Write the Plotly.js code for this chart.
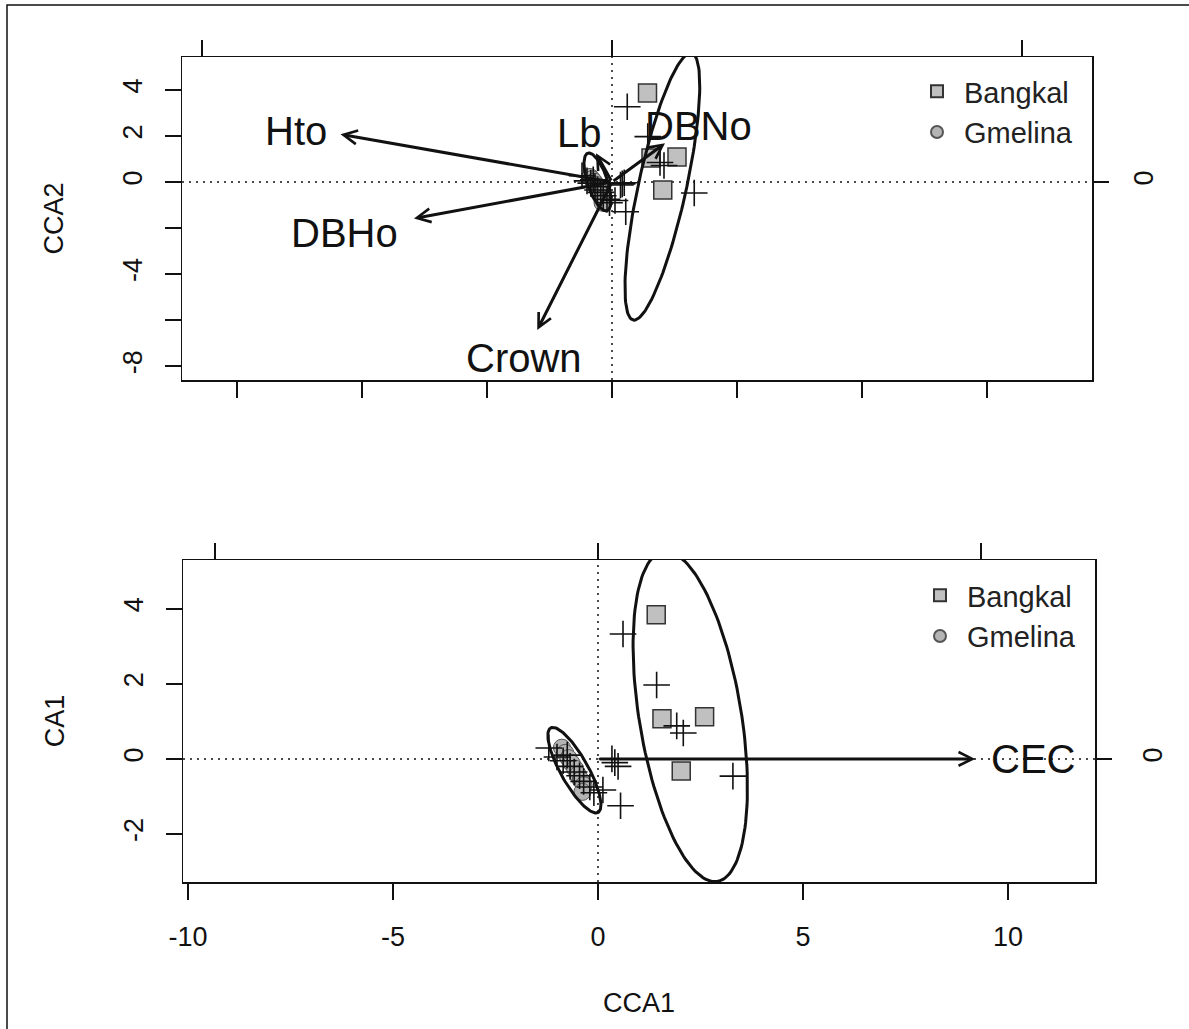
<!DOCTYPE html>
<html>
<head>
<meta charset="utf-8">
<script src="https://cdn.plot.ly/plotly-3.0.1.min.js"></script>
<style>html,body{margin:0;padding:0;background:#fff;}#chart{width:1189px;height:1029px;}</style>
</head>
<body>
<div id="chart"></div>
<script>
// ---------------- data ----------------
const groups = ['Bangkal', 'Gmelina'];

// site scores
const bangkalCCA1 = [1.42, 1.56, 2.60, 2.03];
const bangkalCCA2 = [3.87, 1.04, 1.09, -0.35];
const bangkalCA1  = [3.84, 1.07, 1.12, -0.32];

const gmelinaCCA1 = [-0.88, -0.80, -0.72, -0.64, -0.56, -0.49, -0.42, -0.35, -0.38];
const gmelinaCCA2 = [0.22, 0.12, 0.02, -0.12, -0.25, -0.40, -0.55, -0.70, -0.90];
const gmelinaCA1  = [0.30, 0.16, 0.02, -0.12, -0.26, -0.42, -0.56, -0.70, -0.88];

// species scores (crosses)
const speciesCCA1 = [0.61, 1.43, 1.92, 2.08, 3.29, 0.55, 0.34, 0.41, 0.49, -1.20, -1.00, -0.85, -0.75, -0.68, -0.58, -0.45, -0.35, -0.20, 0.12, -0.10];
const speciesCCA2 = [3.27, 1.97, 0.85, 0.72, -0.48, -1.29, -0.13, -0.08, -0.03, 0.27, 0.05, -0.05, 0.10, -0.20, -0.35, -0.45, -0.60, -0.75, -0.80, -0.90];
const speciesCA1  = [3.33, 1.97, 0.88, 0.69, -0.46, -1.25, 0.00, -0.10, -0.20, 0.29, 0.05, -0.05, 0.10, -0.20, -0.35, -0.45, -0.60, -0.75, -0.83, -0.90];

// biplot arrows, top panel (CCA1 vs CCA2)
const envNames   = ['Hto', 'DBHo', 'Crown', 'Lb', 'DBNo'];
const envCCA1    = [-10.86, -7.92, -2.99, -0.64, 2.12];
const envCCA2    = [2.07, -1.58, -6.43, 1.25, 1.68];
const envLabelX  = [-12.64, -10.72, -3.52, -1.32, 3.44];
const envLabelY  = [2.20, -2.20, -7.65, 2.15, 2.45];

// biplot arrow, bottom panel (CCA1 vs CA1)
const env2Names  = ['CEC'];
const env2CCA1   = [9.2];
const env2CA1    = [0];
const env2LabelX = [10.6];
const env2LabelY = [0];

// ellipses: [centre x, centre y, shear, half width, half height]
const ellipseTopBangkal    = [2.015, -0.20, 0.195, 0.98, 5.80];
const ellipseTopGmelina    = [-0.58, 0.00, -0.27, 0.42, 1.26];
const ellipseBottomBangkal = [2.25, 1.13, -0.136, 1.26, 4.40];
const ellipseBottomGmelina = [-0.575, -0.30, -0.46, 0.38, 1.14];

// tick labels
const topYTicks   = [-8, -6, -4, -2, 0, 2, 4];
const topYText    = ['-8', '', '-4', '', '0', '2', '4'];
const topXTicks   = [-15, -10, -5, 0, 5, 10, 15];
const botXTicks   = [-10, -5, 0, 5, 10];
const botXText    = ['-10', '-5', '0', '5', '10'];
const botYTicks   = [-2, 0, 2, 4];
const botYText    = ['-2', '0', '2', '4'];
const sideTicks   = [-1, 0, 1];
const rightTicks  = [0];
const rightText   = ['0'];

// ---------------- helpers ----------------
const FONT = 'Liberation Sans, Arial, Helvetica, sans-serif';
const INK = '#111';

function ellipse(p) {
  const [xc, yc, k, hw, h] = p;
  const xs = [], ys = [];
  for (let i = 0; i <= 144; i++) {
    const t = 2 * Math.PI * i / 144;
    ys.push(yc + h * Math.sin(t));
    xs.push(xc + k * h * Math.sin(t) + hw * Math.cos(t));
  }
  return { xs, ys };
}

const bangkalMarker = { symbol: 'square', size: 18, color: '#c0c0c0', line: { color: '#333', width: 1.5 } };
const gmelinaMarker = { symbol: 'circle', size: 17, color: '#b4b4b4', line: { color: '#555', width: 1 } };
const crossMarker = { symbol: 'cross-thin', size: 19, color: INK, line: { color: INK, width: 1.6 } };

function panelTraces(xa, ya, legendId, bY, gY, sY, eB, eG) {
  const eb = ellipse(eB), eg = ellipse(eG);
  return [
    { type: 'scatter', mode: 'markers', name: groups[0], x: bangkalCCA1, y: bY, xaxis: xa, yaxis: ya,
      marker: bangkalMarker, legend: legendId, hoverinfo: 'skip' },
    { type: 'scatter', mode: 'markers', name: groups[1], x: gmelinaCCA1, y: gY, xaxis: xa, yaxis: ya,
      marker: gmelinaMarker, legend: legendId, hoverinfo: 'skip' },
    { type: 'scatter', mode: 'markers', name: 'species', x: speciesCCA1, y: sY, xaxis: xa, yaxis: ya,
      marker: crossMarker, showlegend: false, hoverinfo: 'skip' },
    { type: 'scatter', mode: 'lines', x: eb.xs, y: eb.ys, xaxis: xa, yaxis: ya,
      line: { color: INK, width: 3 }, showlegend: false, hoverinfo: 'skip' },
    { type: 'scatter', mode: 'lines', x: eg.xs, y: eg.ys, xaxis: xa, yaxis: ya,
      line: { color: INK, width: 3 }, showlegend: false, hoverinfo: 'skip' }
  ];
}

const data = [].concat(
  panelTraces('x', 'y', 'legend', bangkalCCA2, gmelinaCCA2, speciesCCA2, ellipseTopBangkal, ellipseTopGmelina),
  panelTraces('x2', 'y2', 'legend2', bangkalCA1, gmelinaCA1, speciesCA1, ellipseBottomBangkal, ellipseBottomGmelina),
  // empty traces to register the extra (top / right) axes
  [
    { type: 'scatter', x: [], y: [], xaxis: 'x3', yaxis: 'y', showlegend: false, hoverinfo: 'skip' },
    { type: 'scatter', x: [], y: [], xaxis: 'x', yaxis: 'y3', showlegend: false, hoverinfo: 'skip' },
    { type: 'scatter', x: [], y: [], xaxis: 'x4', yaxis: 'y2', showlegend: false, hoverinfo: 'skip' },
    { type: 'scatter', x: [], y: [], xaxis: 'x2', yaxis: 'y4', showlegend: false, hoverinfo: 'skip' }
  ]
);

// ---------------- layout ----------------
const W = 1189, H = 1029;
const px = v => v / W;
const py = v => 1 - v / H;

const topXRange = [-17.2, 19.2];
const topYRange = [-8.6, 5.43];
const botXRange = [-10.12, 12.12];
const botYRange = [-3.28, 5.3];

const tickFont = { family: FONT, size: 27, color: INK };
const titleFont = { family: FONT, size: 27, color: INK };

const baseAxis = {
  showgrid: false, zeroline: false, showline: true, mirror: true,
  linecolor: INK, linewidth: 1.5, ticks: 'outside', ticklen: 16,
  tickcolor: INK, tickwidth: 1.5, tickfont: tickFont, fixedrange: true
};

const layout = {
  width: W, height: H,
  margin: { l: 0, r: 0, t: 0, b: 0 },
  paper_bgcolor: '#fff', plot_bgcolor: '#fff',
  font: { family: FONT, color: INK },
  showlegend: true,
  xaxis: Object.assign({}, baseAxis, {
    domain: [px(182), px(1092)], anchor: 'y', range: topXRange,
    tickmode: 'array', tickvals: topXTicks, showticklabels: false
  }),
  yaxis: Object.assign({}, baseAxis, {
    domain: [py(380), py(57)], anchor: 'x', range: topYRange,
    tickmode: 'array', tickvals: topYTicks, ticktext: topYText, tickangle: -90,
    ticklabelstandoff: 12,
    title: { text: 'CCA2', font: titleFont, standoff: 46 }
  }),
  xaxis3: {
    overlaying: 'x', side: 'top', anchor: 'y', range: [-1.049, 1.171],
    tickmode: 'array', tickvals: sideTicks, showticklabels: false,
    ticks: 'outside', ticklen: 16, tickcolor: INK, tickwidth: 1.5,
    showline: false, showgrid: false, zeroline: false, fixedrange: true
  },
  yaxis3: {
    overlaying: 'y', side: 'right', anchor: 'x', range: topYRange,
    tickmode: 'array', tickvals: rightTicks, ticktext: rightText, tickangle: -90,
    ticks: 'outside', ticklen: 16, tickcolor: INK, tickwidth: 1.5, tickfont: tickFont,
    ticklabelstandoff: 12,
    showline: false, showgrid: false, zeroline: false, fixedrange: true
  },
  xaxis2: Object.assign({}, baseAxis, {
    domain: [px(183), px(1095)], anchor: 'y2', range: botXRange,
    tickmode: 'array', tickvals: botXTicks, ticktext: botXText,
    ticklabelstandoff: 14,
    title: { text: 'CCA1', font: titleFont, standoff: 42 }
  }),
  yaxis2: Object.assign({}, baseAxis, {
    domain: [py(882), py(560)], anchor: 'x2', range: botYRange,
    tickmode: 'array', tickvals: botYTicks, ticktext: botYText, tickangle: -90,
    ticklabelstandoff: 12,
    title: { text: 'CA1', font: titleFont, standoff: 46 }
  }),
  xaxis4: {
    overlaying: 'x2', side: 'top', anchor: 'y2', range: [-1.084, 1.298],
    tickmode: 'array', tickvals: sideTicks, showticklabels: false,
    ticks: 'outside', ticklen: 16, tickcolor: INK, tickwidth: 1.5,
    showline: false, showgrid: false, zeroline: false, fixedrange: true
  },
  yaxis4: {
    overlaying: 'y2', side: 'right', anchor: 'x2', range: botYRange,
    tickmode: 'array', tickvals: rightTicks, ticktext: rightText, tickangle: -90,
    ticks: 'outside', ticklen: 16, tickcolor: INK, tickwidth: 1.5, tickfont: tickFont,
    ticklabelstandoff: 18,
    showline: false, showgrid: false, zeroline: false, fixedrange: true
  },
  legend: {
    x: px(910), y: py(66), xanchor: 'left', yanchor: 'top',
    bgcolor: 'rgba(0,0,0,0)', borderwidth: 0, itemsizing: 'constant', itemwidth: 44,
    font: { family: FONT, size: 29, color: '#222' }
  },
  legend2: {
    x: px(913), y: py(570), xanchor: 'left', yanchor: 'top',
    bgcolor: 'rgba(0,0,0,0)', borderwidth: 0, itemsizing: 'constant', itemwidth: 44,
    font: { family: FONT, size: 29, color: '#222' }
  },
  shapes: [
    // outer frame
    { type: 'rect', xref: 'paper', yref: 'paper', x0: px(7), x1: 1.05, y0: -0.05, y1: py(5),
      line: { color: INK, width: 1.5 }, layer: 'above' },
    // dotted zero lines, top panel
    { type: 'line', xref: 'x domain', yref: 'y', x0: 0, x1: 1, y0: 0, y1: 0,
      line: { color: INK, width: 1.5, dash: '2px,5px' }, layer: 'below' },
    { type: 'line', xref: 'x', yref: 'y domain', x0: 0, x1: 0, y0: 0, y1: 1,
      line: { color: INK, width: 1.5, dash: '2px,5px' }, layer: 'below' },
    // dotted zero lines, bottom panel
    { type: 'line', xref: 'x2 domain', yref: 'y2', x0: 0, x1: 1, y0: 0, y1: 0,
      line: { color: INK, width: 1.5, dash: '2px,5px' }, layer: 'below' },
    { type: 'line', xref: 'x2', yref: 'y2 domain', x0: 0, x1: 0, y0: 0, y1: 1,
      line: { color: INK, width: 1.5, dash: '2px,5px' }, layer: 'below' }
  ],
  annotations: []
};

function addArrows(names, ex, ey, lx, ly, xr, yr) {
  for (let i = 0; i < names.length; i++) {
    layout.annotations.push({
      x: ex[i], y: ey[i], xref: xr, yref: yr,
      ax: 0, ay: 0, axref: xr, ayref: yr,
      text: '', showarrow: true, arrowhead: 5, arrowsize: 0.9, arrowwidth: 3,
      arrowcolor: INK, standoff: 0, startstandoff: 0
    });
    layout.annotations.push({
      x: lx[i], y: ly[i], xref: xr, yref: yr, text: names[i], showarrow: false,
      xanchor: 'center', yanchor: 'middle',
      font: { family: FONT, size: 40, color: INK }
    });
  }
}
addArrows(envNames, envCCA1, envCCA2, envLabelX, envLabelY, 'x', 'y');
addArrows(env2Names, env2CCA1, env2CA1, env2LabelX, env2LabelY, 'x2', 'y2');

Plotly.newPlot('chart', data, layout, { staticPlot: true, displayModeBar: false });
</script>
</body>
</html>
